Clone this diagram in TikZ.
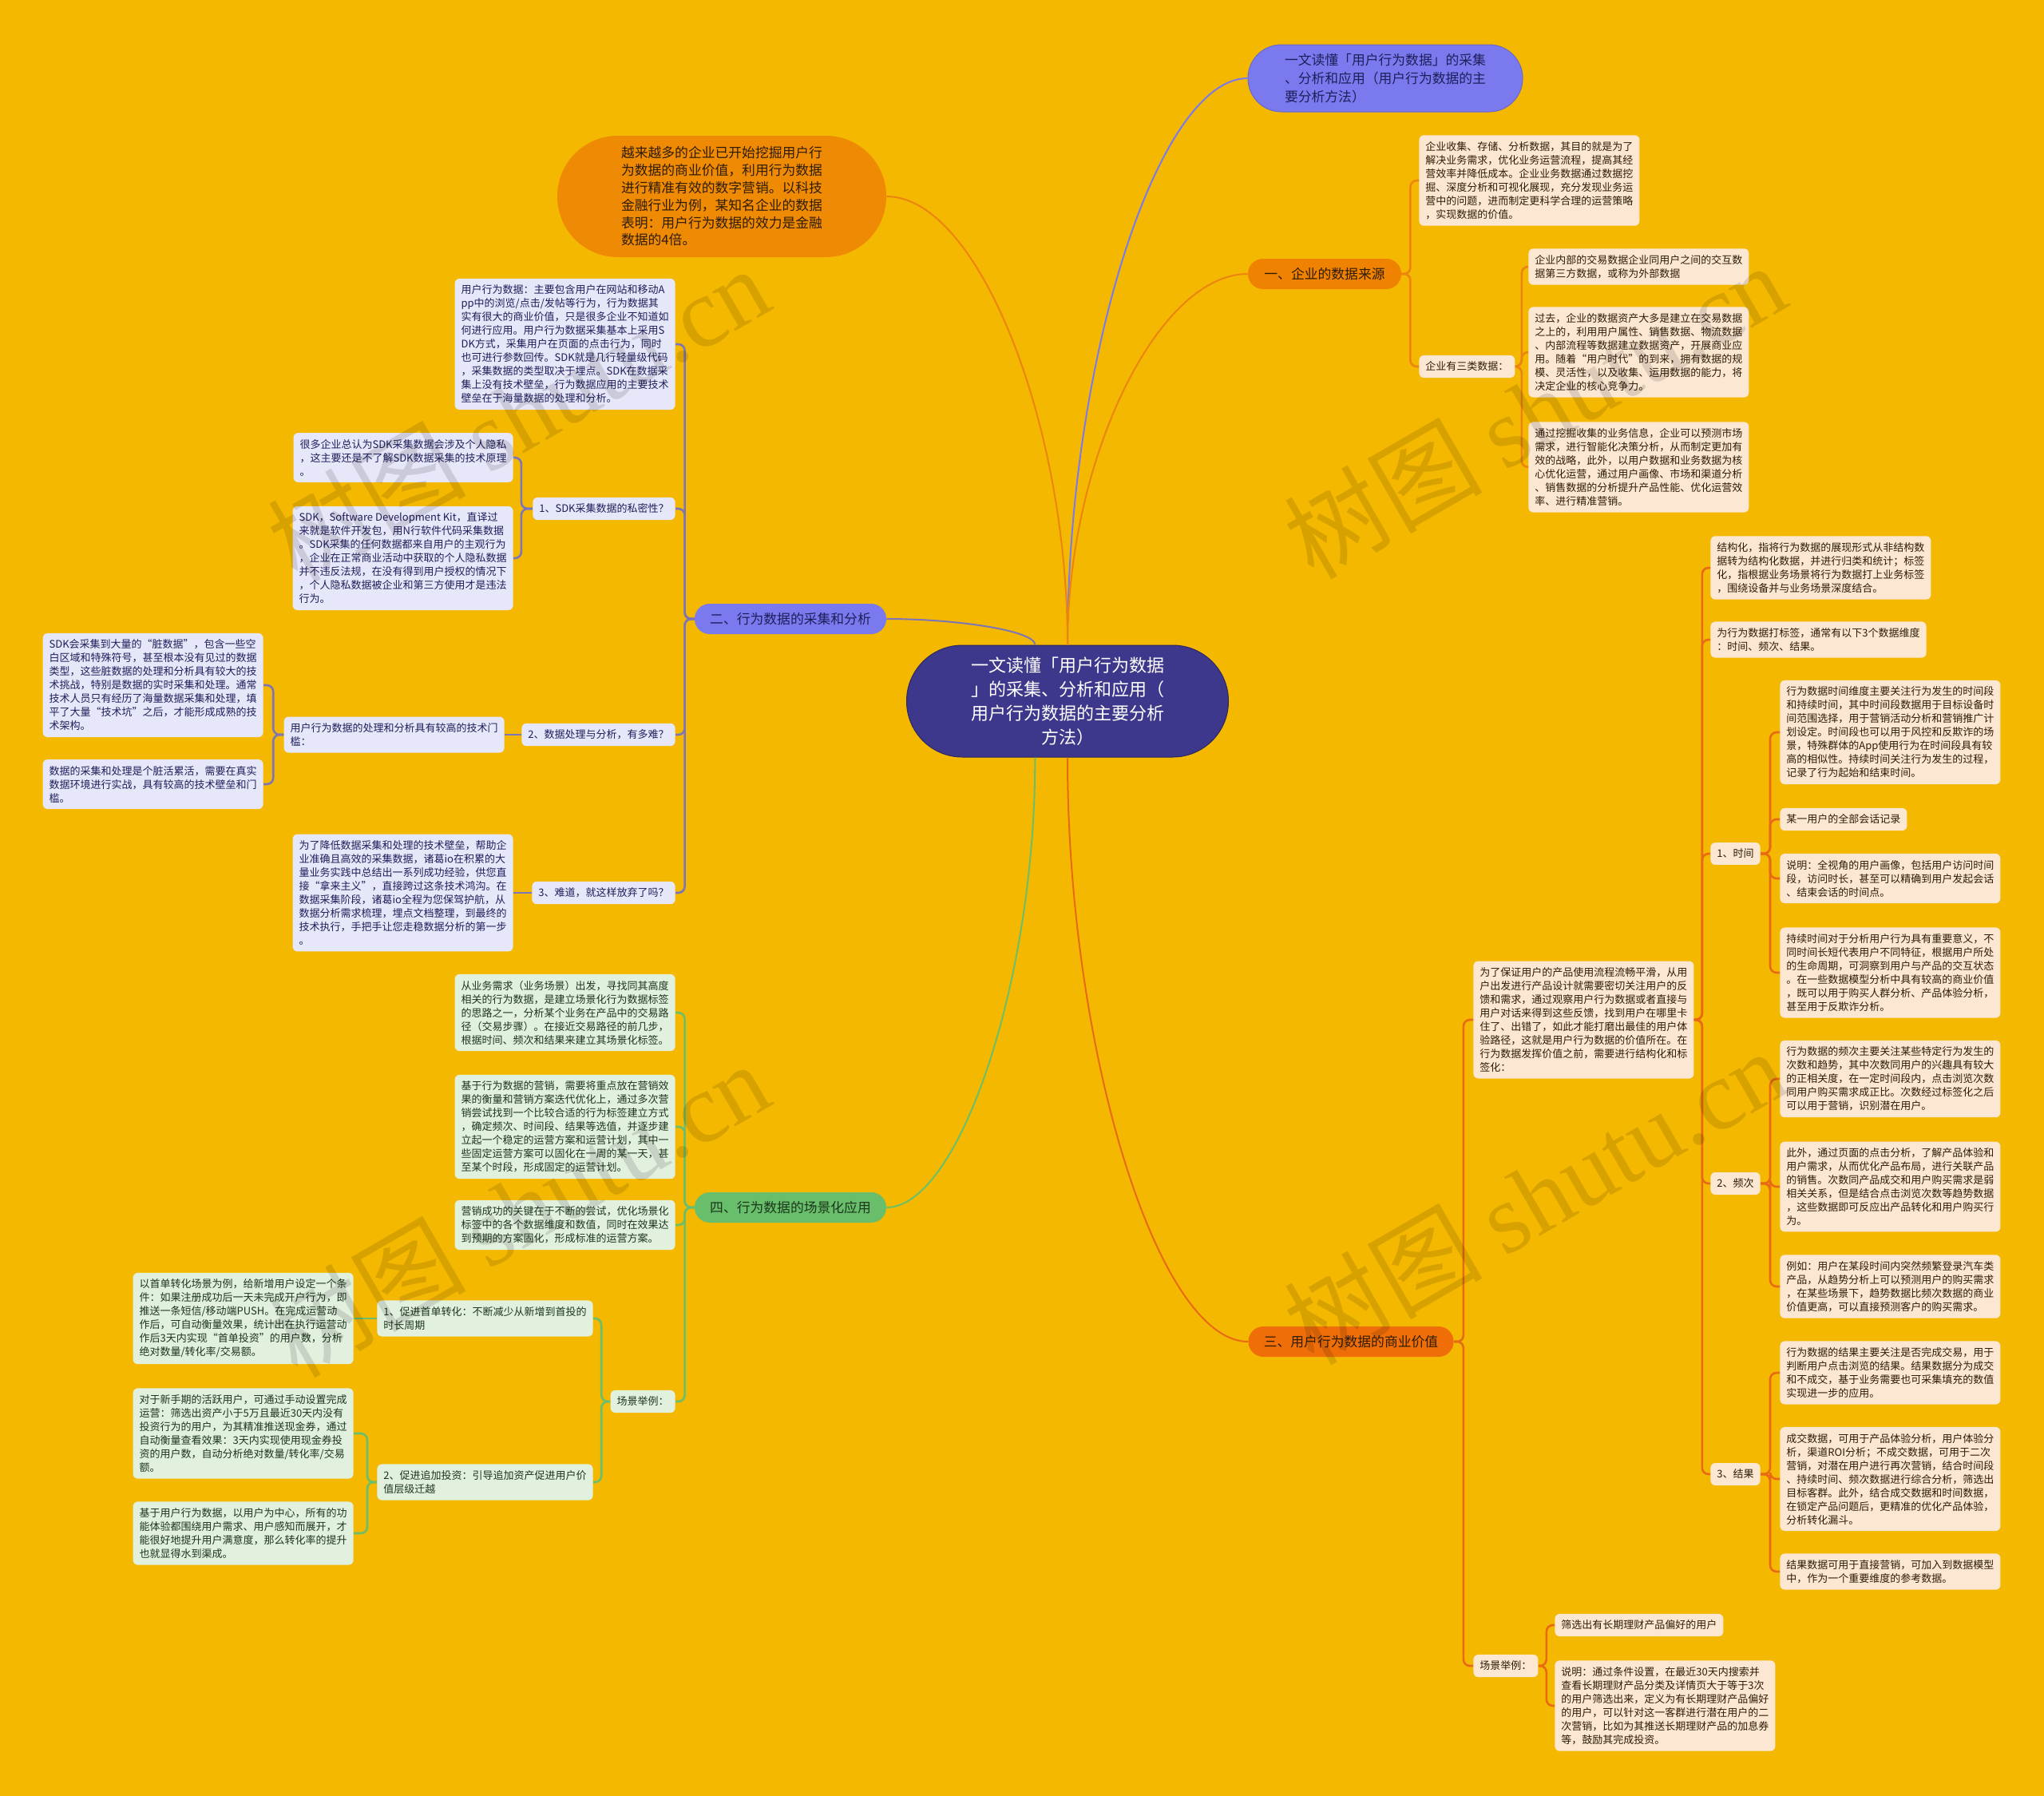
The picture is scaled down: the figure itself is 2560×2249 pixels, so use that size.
\documentclass[tikz,border=0pt]{standalone}
\usepackage{fontspec}
\setmainfont{Noto Sans CJK SC}
\newfontfamily\wmlatin{Liberation Serif}
\definecolor{bgc}{HTML}{F5B800}
\definecolor{peach}{HTML}{FCE7D3}
\definecolor{lav}{HTML}{E7E7FA}
\definecolor{mint}{HTML}{E2F0DE}
\definecolor{titlefill}{HTML}{7A7AEE}
\definecolor{centerfill}{HTML}{3E388C}
\definecolor{orangeA}{HTML}{EF8200}
\definecolor{orangeB}{HTML}{F06E08}
\definecolor{orangeC}{HTML}{EF8A05}
\definecolor{greenN}{HTML}{68BE6A}
\definecolor{lineA}{HTML}{EC8410}
\definecolor{lineB}{HTML}{E86A14}
\definecolor{lineP}{HTML}{7C76B8}
\definecolor{lineG}{HTML}{6BBF6B}
\definecolor{lineT}{HTML}{7A7AEE}
\definecolor{txtO}{HTML}{2E1C05}
\definecolor{txtP}{HTML}{1E1E5A}
\definecolor{txtG}{HTML}{1C361C}
\tikzset{
  detail/.style={rounded corners=3pt, inner xsep=4pt, inner ysep=4pt, align=left, font=\fontsize{6.5pt}{8.5pt}\selectfont},
  ob/.style={detail, fill=peach, text=txtO},
  pb/.style={detail, fill=lav, text=txtP},
  gb/.style={detail, fill=mint, text=txtG},
  branchnode/.style={minimum height=19pt, rounded corners=9.4pt, inner xsep=0pt, inner ysep=0pt, font=\fontsize{8.4pt}{10pt}\selectfont},
  mainline/.style={line width=1pt},
  olink/.style={draw=lineA, line width=1.3pt, rounded corners=4pt},
  rlink/.style={draw=lineB, line width=1.3pt, rounded corners=4pt},
  plink/.style={draw=lineP, line width=1.3pt, rounded corners=4pt},
  glink/.style={draw=lineG, line width=1.3pt, rounded corners=4pt},
  wm/.style={font=\fontsize{62pt}{64pt}\selectfont, text=black, opacity=0.12, rotate=30}
}
\begin{document}
\begin{tikzpicture}[x=0.5pt,y=-0.5pt]
\fill[bgc] (0,0) rectangle (2560,2249);
\useasboundingbox (0,0) rectangle (2560,2249);

% ---------- central and main branch nodes ----------
\node[fill=centerfill, draw=centerfill!70!black, line width=0.5pt, text=white, minimum width=201.5pt, minimum height=70pt, rounded corners=34.9pt, inner sep=0pt, align=center, font=\fontsize{11pt}{15pt}\selectfont] (C) at (1337,878)
 {一文读懂「用户行为数据\\」的采集、分析和应用（\\用户行为数据的主要分析\\方法）};

\node[fill=titlefill, draw=titlefill!85!black, line width=0.5pt, text=txtP, minimum width=172pt, minimum height=42pt, rounded corners=20.9pt, inner sep=0pt, align=left, font=\fontsize{8.4pt}{11.5pt}\selectfont] (T) at (1735,98)
 {一文读懂「用户行为数据」的采集\\、分析和应用（用户行为数据的主\\要分析方法）};

\node[fill=orangeC, text=txtO, minimum width=206pt, minimum height=76pt, rounded corners=37.9pt, inner sep=0pt, align=left, font=\fontsize{8.4pt}{10.9pt}\selectfont] (O) at (904,246)
 {越来越多的企业已开始挖掘用户行\\为数据的商业价值，利用行为数据\\进行精准有效的数字营销。以科技\\金融行业为例，某知名企业的数据\\表明：用户行为数据的效力是金融\\数据的4倍。};

\node[branchnode, fill=orangeA, text=txtO, minimum width=96pt] (N1) at (1659,343) {一、企业的数据来源};
\node[branchnode, fill=titlefill, text=txtP, minimum width=120pt] (N2) at (990,775) {二、行为数据的采集和分析};
\node[branchnode, fill=orangeB, text=txtO, minimum width=128.5pt] (N3) at (1692,1680) {三、用户行为数据的商业价值};
\node[branchnode, fill=greenN, text=txtG, minimum width=120pt] (N4) at (990,1512) {四、行为数据的场景化应用};

% ---------- main curves ----------
\draw[mainline, draw=lineT] (C.north) .. controls (1337,453) and (1450,98) .. (T.west);
\draw[mainline, draw=lineA] (C.north) .. controls (1337,575) and (1450,343) .. (N1.west);
\draw[mainline, draw=lineA] (C.north) .. controls (1337,527) and (1224,246) .. (O.east);
\draw[mainline, draw=lineP] (C.120) .. controls (1297,790) and (1200,775) .. (N2.east);
\draw[mainline, draw=lineG] (C.240) .. controls (1297,1230) and (1200,1512) .. (N4.east);
\draw[mainline, draw=lineB] (C.south) .. controls (1337,1314) and (1450,1680) .. (N3.west);

% ---------- section 一 ----------
\node[ob, anchor=west] (A) at (1777,226) {企业收集、存储、分析数据，其目的就是为了\\解决业务需求，优化业务运营流程，提高其经\\营效率并降低成本。企业业务数据通过数据挖\\掘、深度分析和可视化展现，充分发现业务运\\营中的问题，进而制定更科学合理的运营策略\\，实现数据的价值。};
\node[ob, anchor=west] (K) at (1777,459) {企业有三类数据：};
\node[ob, anchor=west] (B1) at (1914,334) {企业内部的交易数据企业同用户之间的交互数\\据第三方数据，或称为外部数据};
\node[ob, anchor=west] (B2) at (1914,441) {过去，企业的数据资产大多是建立在交易数据\\之上的，利用用户属性、销售数据、物流数据\\、内部流程等数据建立数据资产，开展商业应\\用。随着“用户时代”的到来，拥有数据的规\\模、灵活性，以及收集、运用数据的能力，将\\决定企业的核心竞争力。};
\node[ob, anchor=west] (B3) at (1914,585) {通过挖掘收集的业务信息，企业可以预测市场\\需求，进行智能化决策分析，从而制定更加有\\效的战略，此外，以用户数据和业务数据为核\\心优化运营，通过用户画像、市场和渠道分析\\、销售数据的分析提升产品性能、优化运营效\\率、进行精准营销。};
\draw[olink] (N1.east) -- ++(11,0) |- (A.west);
\draw[olink] (N1.east) -- ++(11,0) |- (K.west);
\draw[olink] (K.east) -- ++(8,0) |- (B1.west);
\draw[olink] (K.east) -- ++(8,0) |- (B2.west);
\draw[olink] (K.east) -- ++(8,0) |- (B3.west);

% ---------- section 三 ----------
\node[ob, anchor=west] (Big) at (1845,1277) {为了保证用户的产品使用流程流畅平滑，从用\\户出发进行产品设计就需要密切关注用户的反\\馈和需求，通过观察用户行为数据或者直接与\\用户对话来得到这些反馈，找到用户在哪里卡\\住了、出错了，如此才能打磨出最佳的用户体\\验路径，这就是用户行为数据的价值所在。在\\行为数据发挥价值之前，需要进行结构化和标\\签化：};
\node[ob, anchor=west] (SJ) at (1845,2086) {场景举例：};
\node[ob, anchor=west] (S1) at (1947,2035) {筛选出有长期理财产品偏好的用户};
\node[ob, anchor=west] (S2) at (1947,2136) {说明：通过条件设置，在最近30天内搜索并\\查看长期理财产品分类及详情页大于等于3次\\的用户筛选出来，定义为有长期理财产品偏好\\的用户，可以针对这一客群进行潜在用户的二\\次营销，比如为其推送长期理财产品的加息券\\等，鼓励其完成投资。};
\node[ob, anchor=west] (JG) at (2142,711) {结构化，指将行为数据的展现形式从非结构数\\据转为结构化数据，并进行归类和统计；标签\\化，指根据业务场景将行为数据打上业务标签\\，围绕设备并与业务场景深度结合。};
\node[ob, anchor=west] (BQ) at (2142,801) {为行为数据打标签，通常有以下3个数据维度\\：时间、频次、结果。};
\node[ob, anchor=west] (SJ1) at (2142,1069) {1、时间};
\node[ob, anchor=west] (SJ2) at (2142,1482) {2、频次};
\node[ob, anchor=west] (SJ3) at (2142,1846) {3、结果};
\node[ob, anchor=west] (T1) at (2229,917) {行为数据时间维度主要关注行为发生的时间段\\和持续时间，其中时间段数据用于目标设备时\\间范围选择，用于营销活动分析和营销推广计\\划设定。时间段也可以用于风控和反欺诈的场\\景，特殊群体的App使用行为在时间段具有较\\高的相似性。持续时间关注行为发生的过程，\\记录了行为起始和结束时间。};
\node[ob, anchor=west] (T2) at (2229,1026) {某一用户的全部会话记录};
\node[ob, anchor=west] (T3) at (2229,1100) {说明：全视角的用户画像，包括用户访问时间\\段，访问时长，甚至可以精确到用户发起会话\\、结束会话的时间点。};
\node[ob, anchor=west] (T4) at (2229,1218) {持续时间对于分析用户行为具有重要意义，不\\同时间长短代表用户不同特征，根据用户所处\\的生命周期，可洞察到用户与产品的交互状态\\。在一些数据模型分析中具有较高的商业价值\\，既可以用于购买人群分析、产品体验分析，\\甚至用于反欺诈分析。};
\node[ob, anchor=west] (F1) at (2229,1351) {行为数据的频次主要关注某些特定行为发生的\\次数和趋势，其中次数同用户的兴趣具有较大\\的正相关度，在一定时间段内，点击浏览次数\\同用户购买需求成正比。次数经过标签化之后\\可以用于营销，识别潜在用户。};
\node[ob, anchor=west] (F2) at (2229,1486) {此外，通过页面的点击分析，了解产品体验和\\用户需求，从而优化产品布局，进行关联产品\\的销售。次数同产品成交和用户购买需求是弱\\相关关系，但是结合点击浏览次数等趋势数据\\，这些数据即可反应出产品转化和用户购买行\\为。};
\node[ob, anchor=west] (F3) at (2229,1611) {例如：用户在某段时间内突然频繁登录汽车类\\产品，从趋势分析上可以预测用户的购买需求\\，在某些场景下，趋势数据比频次数据的商业\\价值更高，可以直接预测客户的购买需求。};
\node[ob, anchor=west] (R1) at (2229,1719) {行为数据的结果主要关注是否完成交易，用于\\判断用户点击浏览的结果。结果数据分为成交\\和不成交，基于业务需要也可采集填充的数值\\实现进一步的应用。};
\node[ob, anchor=west] (R2) at (2229,1852) {成交数据，可用于产品体验分析，用户体验分\\析，渠道ROI分析；不成交数据，可用于二次\\营销，对潜在用户进行再次营销，结合时间段\\、持续时间、频次数据进行综合分析，筛选出\\目标客群。此外，结合成交数据和时间数据，\\在锁定产品问题后，更精准的优化产品体验，\\分析转化漏斗。};
\node[ob, anchor=west] (R3) at (2229,1968) {结果数据可用于直接营销，可加入到数据模型\\中，作为一个重要维度的参考数据。};
\draw[rlink] (N3.east) -- ++(12,0) |- (Big.west);
\draw[rlink] (N3.east) -- ++(12,0) |- (SJ.west);
\draw[rlink] (SJ.east) -- ++(10,0) |- (S1.west);
\draw[rlink] (SJ.east) -- ++(10,0) |- (S2.west);
\foreach \c in {JG,BQ,SJ1,SJ2,SJ3} \draw[rlink] (Big.east) -- ++(10,0) |- (\c.west);
\foreach \c in {T1,T2,T3,T4} \draw[rlink] (SJ1.east) -- ++(12,0) |- (\c.west);
\foreach \c in {F1,F2,F3} \draw[rlink] (SJ2.east) -- ++(12,0) |- (\c.west);
\foreach \c in {R1,R2,R3} \draw[rlink] (SJ3.east) -- ++(12,0) |- (\c.west);

% ---------- section 二 ----------
\node[pb, anchor=east] (U) at (846,431) {用户行为数据：主要包含用户在网站和移动A\\pp中的浏览/点击/发帖等行为，行为数据其\\实有很大的商业价值，只是很多企业不知道如\\何进行应用。用户行为数据采集基本上采用S\\DK方式，采集用户在页面的点击行为，同时\\也可进行参数回传。SDK就是几行轻量级代码\\，采集数据的类型取决于埋点。SDK在数据采\\集上没有技术壁垒，行为数据应用的主要技术\\壁垒在于海量数据的处理和分析。};
\node[pb, anchor=east] (L1) at (846,637) {1、SDK采集数据的私密性？};
\node[pb, anchor=east] (L2) at (846,920) {2、数据处理与分析，有多难？};
\node[pb, anchor=east] (L3) at (846,1118) {3、难道，就这样放弃了吗？};
\node[pb, anchor=east] (P1) at (643,573) {很多企业总认为SDK采集数据会涉及个人隐私\\，这主要还是不了解SDK数据采集的技术原理\\。};
\node[pb, anchor=east] (P2) at (643,699) {SDK，Software Development Kit，直译过\\来就是软件开发包，用N行软件代码采集数据\\。SDK采集的任何数据都来自用户的主观行为\\，企业在正常商业活动中获取的个人隐私数据\\并不违反法规，在没有得到用户授权的情况下\\，个人隐私数据被企业和第三方使用才是违法\\行为。};
\node[pb, anchor=east] (Q) at (632,920) {用户行为数据的处理和分析具有较高的技术门\\槛：};
\node[pb, anchor=east] (Q1) at (330,858) {SDK会采集到大量的“脏数据”，包含一些空\\白区域和特殊符号，甚至根本没有见过的数据\\类型，这些脏数据的处理和分析具有较大的技\\术挑战，特别是数据的实时采集和处理。通常\\技术人员只有经历了海量数据采集和处理，填\\平了大量“技术坑”之后，才能形成成熟的技\\术架构。};
\node[pb, anchor=east] (Q2) at (330,982) {数据的采集和处理是个脏活累活，需要在真实\\数据环境进行实战，具有较高的技术壁垒和门\\槛。};
\node[pb, anchor=east] (NN) at (643,1118) {为了降低数据采集和处理的技术壁垒，帮助企\\业准确且高效的采集数据，诸葛io在积累的大\\量业务实践中总结出一系列成功经验，供您直\\接“拿来主义”，直接跨过这条技术鸿沟。在\\数据采集阶段，诸葛io全程为您保驾护航，从\\数据分析需求梳理，埋点文档整理，到最终的\\技术执行，手把手让您走稳数据分析的第一步\\。};
\foreach \c in {U,L1,L2,L3} \draw[plink] (N2.west) -- ++(-12,0) |- (\c.east);
\draw[plink] (L1.west) -- ++(-14,0) |- (P1.east);
\draw[plink] (L1.west) -- ++(-14,0) |- (P2.east);
\draw[plink] (L2.west) -- (Q.east);
\draw[plink] (Q.west) -- ++(-13,0) |- (Q1.east);
\draw[plink] (Q.west) -- ++(-13,0) |- (Q2.east);
\draw[plink] (L3.west) -- (NN.east);

% ---------- section 四 ----------
\node[gb, anchor=east] (G1) at (846,1268) {从业务需求（业务场景）出发，寻找同其高度\\相关的行为数据，是建立场景化行为数据标签\\的思路之一，分析某个业务在产品中的交易路\\径（交易步骤）。在接近交易路径的前几步，\\根据时间、频次和结果来建立其场景化标签。};
\node[gb, anchor=east] (G2) at (846,1411) {基于行为数据的营销，需要将重点放在营销效\\果的衡量和营销方案迭代优化上，通过多次营\\销尝试找到一个比较合适的行为标签建立方式\\，确定频次、时间段、结果等选值，并逐步建\\立起一个稳定的运营方案和运营计划，其中一\\些固定运营方案可以固化在一周的某一天，甚\\至某个时段，形成固定的运营计划。};
\node[gb, anchor=east] (G3) at (846,1534) {营销成功的关键在于不断的尝试，优化场景化\\标签中的各个数据维度和数值，同时在效果达\\到预期的方案固化，形成标准的运营方案。};
\node[gb, anchor=east] (SL) at (846,1755) {场景举例：};
\node[gb, anchor=east] (H1) at (743,1651) {1、促进首单转化：不断减少从新增到首投的\\时长周期};
\node[gb, anchor=east] (H2) at (743,1856) {2、促进追加投资：引导追加资产促进用户价\\值层级迁越};
\node[gb, anchor=east] (H1a) at (443,1651) {以首单转化场景为例，给新增用户设定一个条\\件：如果注册成功后一天未完成开户行为，即\\推送一条短信/移动端PUSH。在完成运营动\\作后，可自动衡量效果，统计出在执行运营动\\作后3天内实现“首单投资”的用户数，分析\\绝对数量/转化率/交易额。};
\node[gb, anchor=east] (H2a) at (443,1795) {对于新手期的活跃用户，可通过手动设置完成\\运营：筛选出资产小于5万且最近30天内没有\\投资行为的用户，为其精准推送现金券，通过\\自动衡量查看效果：3天内实现使用现金券投\\资的用户数，自动分析绝对数量/转化率/交易\\额。};
\node[gb, anchor=east] (H2b) at (443,1920) {基于用户行为数据，以用户为中心，所有的功\\能体验都围绕用户需求、用户感知而展开，才\\能很好地提升用户满意度，那么转化率的提升\\也就显得水到渠成。};
\foreach \c in {G1,G2,G3,SL} \draw[glink] (N4.west) -- ++(-12,0) |- (\c.east);
\draw[glink] (SL.west) -- ++(-11,0) |- (H1.east);
\draw[glink] (SL.west) -- ++(-11,0) |- (H2.east);
\draw[glink] (H1.west) -- (H1a.east);
\draw[glink] (H2.west) -- ++(-12,0) |- (H2a.east);
\draw[glink] (H2.west) -- ++(-12,0) |- (H2b.east);

% ---------- watermarks ----------
\node[wm] (w1) at (649,518) {树图 {\wmlatin shutu.cn}};
\node[wm] (w2) at (1922,514) {树图 {\wmlatin shutu.cn}};
\node[wm] (w3) at (649,1514) {树图 {\wmlatin shutu.cn}};
\node[wm] (w4) at (1922,1498) {树图 {\wmlatin shutu.cn}};
\end{tikzpicture}
\end{document}
